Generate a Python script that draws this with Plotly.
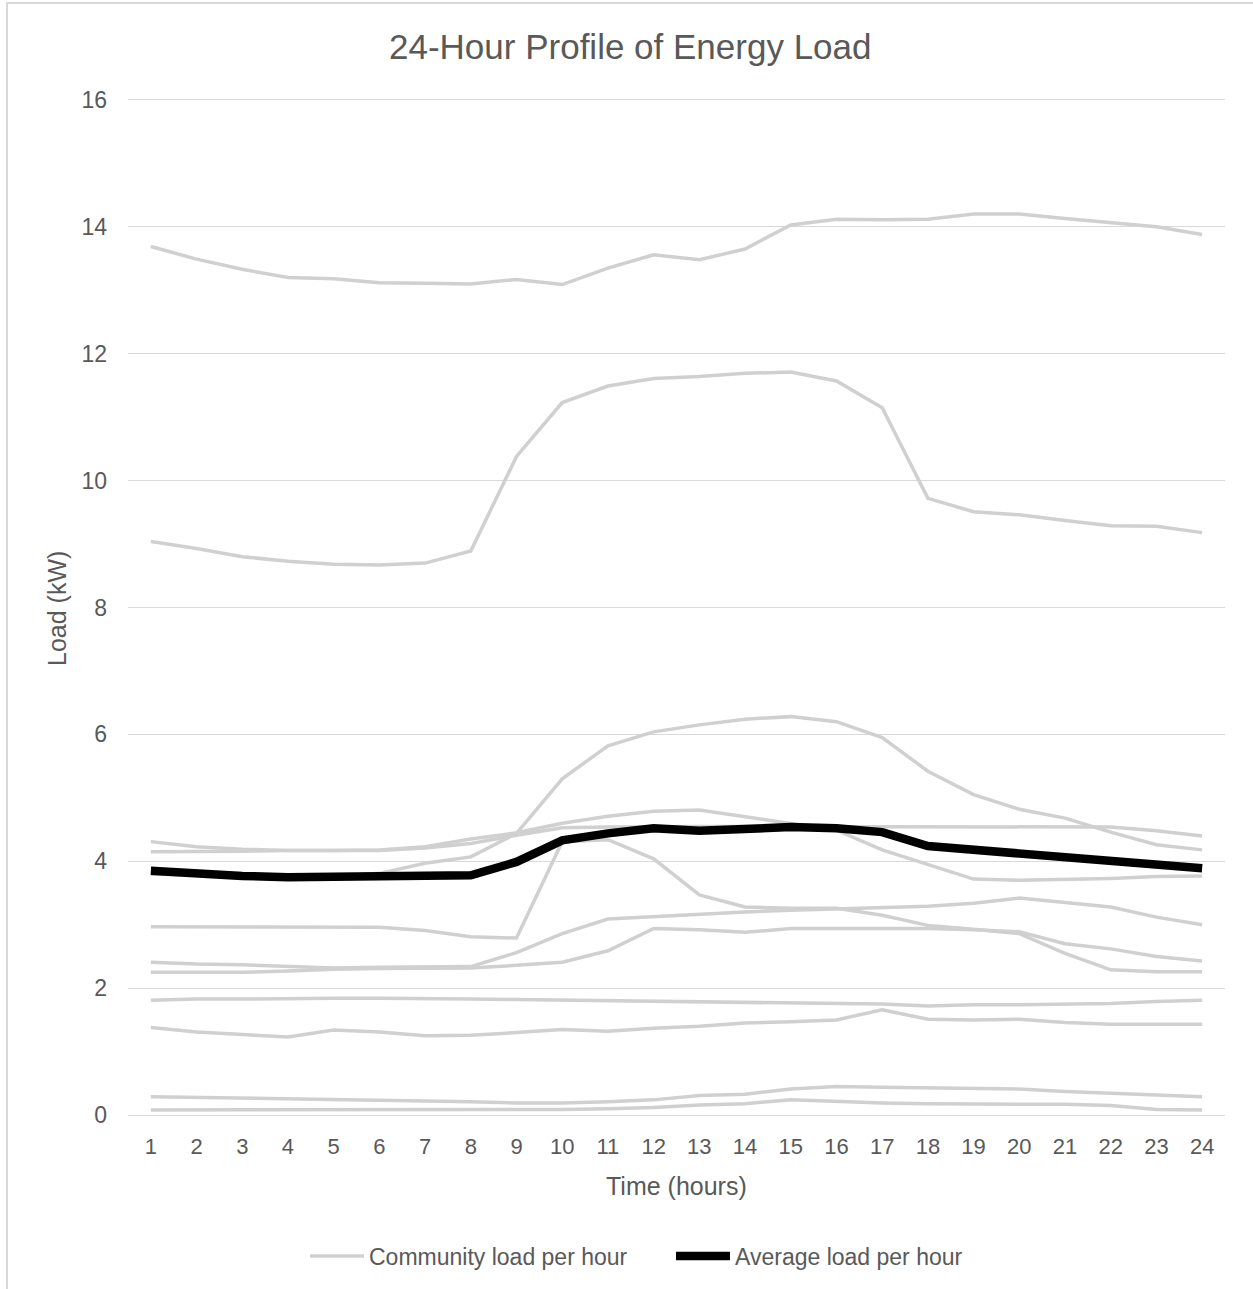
import plotly.graph_objects as go

# Hours of the day (category axis)
hours = [str(h) for h in range(1, 25)]

# Hourly load of each community member (kW)
load_01 = [13.69, 13.49, 13.33, 13.20, 13.18, 13.12, 13.11, 13.10, 13.17, 13.09, 13.35, 13.56,
           13.48, 13.65, 14.03, 14.12, 14.11, 14.12, 14.20, 14.20, 14.13, 14.07, 14.00, 13.88]
load_02 = [9.04, 8.93, 8.80, 8.73, 8.68, 8.67, 8.70, 8.89, 10.38, 11.23, 11.49, 11.61,
           11.64, 11.69, 11.71, 11.57, 11.15, 9.72, 9.51, 9.46, 9.37, 9.29, 9.28, 9.18]
load_03 = [4.31, 4.23, 4.19, 4.17, 4.17, 4.18, 4.23, 4.35, 4.45, 4.60, 4.71, 4.79,
           4.81, 4.70, 4.60, 4.49, 4.18, 3.95, 3.72, 3.70, 3.71, 3.73, 3.76, 3.77]
load_04 = [4.15, 4.15, 4.16, 4.17, 4.17, 4.17, 4.21, 4.28, 4.41, 4.53, 4.54, 4.55,
           4.55, 4.55, 4.55, 4.55, 4.55, 4.55, 4.55, 4.54, 4.54, 4.54, 4.48, 4.40]
load_05 = [3.80, 3.78, 3.76, 3.75, 3.76, 3.81, 3.97, 4.07, 4.44, 5.30, 5.82, 6.04,
           6.15, 6.24, 6.28, 6.20, 5.95, 5.42, 5.05, 4.82, 4.68, 4.46, 4.26, 4.18]
load_06 = [2.97, 2.97, 2.97, 2.97, 2.97, 2.96, 2.91, 2.81, 2.79, 4.31, 4.34, 4.04,
           3.47, 3.28, 3.26, 3.26, 3.15, 2.99, 2.93, 2.86, 2.55, 2.29, 2.26, 2.26]
load_07 = [2.41, 2.38, 2.37, 2.35, 2.32, 2.33, 2.33, 2.34, 2.56, 2.86, 3.09, 3.13,
           3.16, 3.20, 3.23, 3.25, 3.28, 3.29, 3.34, 3.42, 3.35, 3.28, 3.12, 3.00]
load_08 = [2.25, 2.25, 2.25, 2.27, 2.30, 2.31, 2.31, 2.32, 2.36, 2.41, 2.59, 2.94,
           2.92, 2.88, 2.94, 2.94, 2.94, 2.94, 2.92, 2.89, 2.70, 2.62, 2.50, 2.43]
load_09 = [1.81, 1.83, 1.83, 1.84, 1.84, 1.84, 1.84, 1.83, 1.82, 1.81, 1.80, 1.80,
           1.79, 1.77, 1.76, 1.75, 1.75, 1.72, 1.74, 1.74, 1.75, 1.76, 1.79, 1.81]
load_10 = [1.38, 1.31, 1.27, 1.23, 1.34, 1.31, 1.25, 1.26, 1.30, 1.35, 1.32, 1.37,
           1.40, 1.45, 1.47, 1.50, 1.66, 1.51, 1.50, 1.51, 1.46, 1.43, 1.43, 1.43]
load_11 = [0.29, 0.28, 0.26, 0.25, 0.24, 0.23, 0.22, 0.21, 0.19, 0.19, 0.21, 0.24,
           0.31, 0.33, 0.41, 0.45, 0.44, 0.43, 0.42, 0.41, 0.37, 0.34, 0.32, 0.29]
load_12 = [0.08, 0.08, 0.08, 0.08, 0.08, 0.08, 0.08, 0.08, 0.08, 0.09, 0.10, 0.12,
           0.16, 0.18, 0.24, 0.21, 0.19, 0.18, 0.17, 0.17, 0.17, 0.15, 0.09, 0.08]

community_loads = [load_01, load_02, load_03, load_04, load_05, load_06,
                   load_07, load_08, load_09, load_10, load_11, load_12]

# Average hourly load across the community (kW)
average_load = [3.85, 3.80, 3.77, 3.75, 3.75, 3.75, 3.76, 3.78, 3.99, 4.33, 4.44, 4.52,
                4.48, 4.50, 4.54, 4.52, 4.46, 4.24, 4.18, 4.15, 4.07, 4.00, 3.94, 3.89]

y_ticks = [0, 2, 4, 6, 8, 10, 12, 14, 16]

FONT = "Liberation Sans, Arial, sans-serif"
TEXT_GREY = "#595959"
GRID_GREY = "#d9d9d9"
LINE_GREY = "#d0d0d0"

fig = go.Figure()

for i, series in enumerate(community_loads):
    fig.add_trace(go.Scatter(
        x=hours, y=series, mode="lines",
        name="Community load per hour",
        legendgroup="community",
        showlegend=(i == 0),
        line=dict(color=LINE_GREY, width=3.5),
        hoverinfo="skip",
    ))

fig.add_trace(go.Scatter(
    x=hours, y=average_load, mode="lines",
    name="Average load per hour",
    line=dict(color="#000000", width=8.5),
))

# plot area spans roughly y = 98..1117 px; slight padding keeps the 0 and 16 gridlines visible
fig.update_layout(
    width=1253, height=1289,
    margin=dict(l=128, r=28, t=98, b=172),
    paper_bgcolor="white", plot_bgcolor="white",
    font=dict(family=FONT, color=TEXT_GREY, size=22),
    title=dict(
        text="24-Hour Profile of Energy Load",
        x=0.503, xref="container", xanchor="center",
        y=1 - 47 / 1289, yref="container", yanchor="middle",
        font=dict(family=FONT, size=35, color=TEXT_GREY),
    ),
    xaxis=dict(
        type="category", range=[-0.5, 23.5],
        showgrid=False, zeroline=False, showline=False,
        ticks="", tickfont=dict(size=22, color=TEXT_GREY),
        ticklabelstandoff=14,
    ),
    yaxis=dict(
        range=[-0.03, 16.03], tickvals=y_ticks,
        showgrid=True, gridcolor=GRID_GREY, gridwidth=1.3,
        zeroline=False, showline=False, ticks="",
        tickfont=dict(size=23, color=TEXT_GREY),
        ticklabelstandoff=20,
    ),
    showlegend=True,
    legend=dict(
        orientation="h", x=0.495, xanchor="center",
        y=(1117 - 1256) / 1019, yanchor="middle",
        font=dict(family=FONT, size=23, color=TEXT_GREY),
        traceorder="normal", itemwidth=54,
        entrywidth=297, entrywidthmode="pixels",
        bgcolor="rgba(0,0,0,0)",
    ),
    annotations=[
        dict(text="Time (hours)", xref="paper", yref="paper",
             x=0.5, y=(1117 - 1186) / 1019, xanchor="center", yanchor="middle",
             showarrow=False, font=dict(family=FONT, size=25, color=TEXT_GREY)),
        dict(text="Load (kW)", xref="paper", yref="paper",
             x=(57 - 128) / 1097, y=(1117 - 609) / 1019, xanchor="center", yanchor="middle",
             textangle=-90, showarrow=False,
             font=dict(family=FONT, size=25, color=TEXT_GREY)),
    ],
    shapes=[
        dict(type="rect", xref="paper", yref="paper",
             x0=(7 - 128) / 1097, x1=(1262 - 128) / 1097,
             y0=(1117 - 1300) / 1019, y1=(1117 - 3) / 1019,
             line=dict(color=GRID_GREY, width=2), fillcolor="rgba(0,0,0,0)",
             layer="below"),
    ],
)

fig.write_html("out.html")
